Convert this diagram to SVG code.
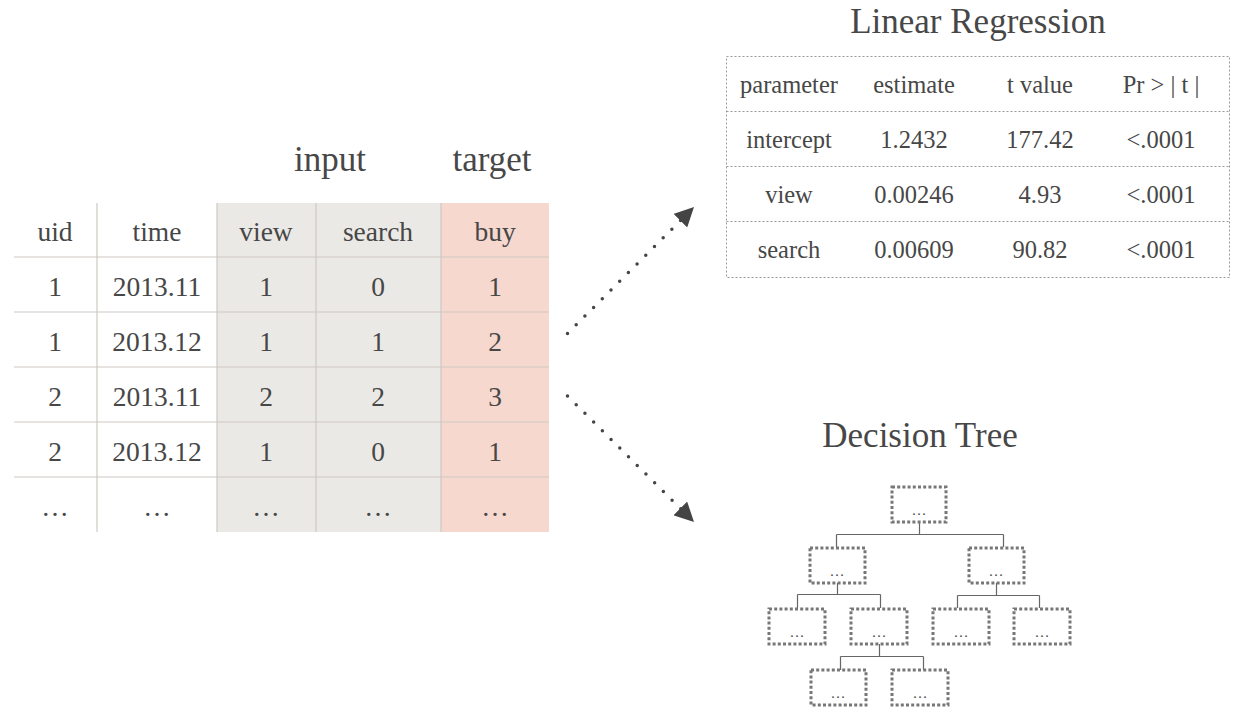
<svg xmlns="http://www.w3.org/2000/svg" width="1247" height="724" viewBox="0 0 1247 724">
<defs>
<style>
text{font-family:"Liberation Serif","DejaVu Serif",serif;fill:#474747;text-anchor:middle}
.t{font-size:27.5px}
.h{font-size:35px}
.g{stroke:#cfc8c2;stroke-width:1.2;fill:none}
.d{stroke:#999;stroke-width:1;stroke-dasharray:2 2;fill:none}
.n{fill:#fff;stroke:#777;stroke-width:3;stroke-dasharray:3 2.2}
.e{stroke:#666;stroke-width:1.2;fill:none}
.dots{font-size:15px}
.c{stroke:#444;stroke-width:3.5;stroke-linecap:round;stroke-dasharray:0 12.3;fill:none}
</style>
<marker id="ah" viewBox="0 0 10 10" refX="10" refY="5" markerWidth="5.5" markerHeight="5.5" orient="auto" markerUnits="strokeWidth">
<path d="M0,0 L10,5 L0,10 z" fill="#444"/>
</marker>
</defs>
<rect width="1247" height="724" fill="#fff"/>

<g id="data-table">
<rect x="217" y="203" width="224" height="329" fill="#ebe9e5"/>
<rect x="441" y="203" width="108" height="329" fill="#f6d8cf"/>
<text class="h" x="330" y="171">input</text>
<text class="h" x="492" y="171">target</text>
<path class="g" d="M97,203V532M217,203V532M316,203V532M441,203V532M14,257H549M14,312H549M14,367H549M14,422H549M14,477H549"/>
<g class="t">
<text x="55" y="241">uid</text><text x="157" y="241">time</text><text x="266" y="241">view</text><text x="378" y="241">search</text><text x="495" y="241">buy</text>
<text x="55" y="296">1</text><text x="157" y="296">2013.11</text><text x="266" y="296">1</text><text x="378" y="296">0</text><text x="495" y="296">1</text>
<text x="55" y="351">1</text><text x="157" y="351">2013.12</text><text x="266" y="351">1</text><text x="378" y="351">1</text><text x="495" y="351">2</text>
<text x="55" y="406">2</text><text x="157" y="406">2013.11</text><text x="266" y="406">2</text><text x="378" y="406">2</text><text x="495" y="406">3</text>
<text x="55" y="461">2</text><text x="157" y="461">2013.12</text><text x="266" y="461">1</text><text x="378" y="461">0</text><text x="495" y="461">1</text>
<text x="55" y="516">…</text><text x="157" y="516">…</text><text x="266" y="516">…</text><text x="378" y="516">…</text><text x="495" y="516">…</text>
</g>
</g>

<g id="connectors">
<line class="c" x1="567.5" y1="333.5" x2="694" y2="207" marker-end="url(#ah)"/>
<line class="c" x1="567.5" y1="396" x2="694" y2="522" marker-end="url(#ah)"/>
</g>

<g id="linear-regression">
<text class="h" x="978" y="33">Linear Regression</text>
<rect class="d" x="726.5" y="56.5" width="503" height="221"/>
<path class="d" d="M726.5,111.5H1229.5M726.5,166.5H1229.5M726.5,221.5H1229.5"/>
<g style="font-size:24.5px">
<text x="789" y="93">parameter</text><text x="914" y="93">estimate</text><text x="1040" y="93">t value</text><text x="1161" y="93">Pr &gt; | t |</text>
<text x="789" y="148">intercept</text><text x="914" y="148">1.2432</text><text x="1040" y="148">177.42</text><text x="1161" y="148">&lt;.0001</text>
<text x="789" y="203">view</text><text x="914" y="203">0.00246</text><text x="1040" y="203">4.93</text><text x="1161" y="203">&lt;.0001</text>
<text x="789" y="258">search</text><text x="914" y="258">0.00609</text><text x="1040" y="258">90.82</text><text x="1161" y="258">&lt;.0001</text>
</g>
</g>

<g id="decision-tree">
<text class="h" x="920" y="447">Decision Tree</text>
<path class="e" d="M919.5,522V534.5M836.5,534.5H1003.5M836.5,534.5V547M1003.5,534.5V547"/>
<path class="e" d="M837.5,583V594.5M797.5,594.5H880.5M797.5,594.5V608M880.5,594.5V608"/>
<path class="e" d="M996.5,583V595.5M957.5,595.5H1039.5M957.5,595.5V608M1039.5,595.5V608"/>
<path class="e" d="M879.5,644V656.5M840.5,656.5H923.5M840.5,656.5V670M923.5,656.5V670"/>
<g id="node-root"><rect class="n" x="892" y="487" width="54" height="35"/><text class="dots" x="919" y="515">…</text></g>
<g id="node-l"><rect class="n" x="810" y="548" width="55" height="35"/><text class="dots" x="837" y="576">…</text></g>
<g id="node-r"><rect class="n" x="969" y="548" width="55" height="35"/><text class="dots" x="996" y="576">…</text></g>
<g id="node-ll"><rect class="n" x="769" y="609" width="56" height="35"/><text class="dots" x="797" y="637">…</text></g>
<g id="node-lr"><rect class="n" x="851" y="609" width="56" height="35"/><text class="dots" x="879" y="637">…</text></g>
<g id="node-rl"><rect class="n" x="933" y="609" width="56" height="35"/><text class="dots" x="961" y="637">…</text></g>
<g id="node-rr"><rect class="n" x="1014" y="609" width="56" height="35"/><text class="dots" x="1042" y="637">…</text></g>
<g id="node-lrl"><rect class="n" x="811" y="670" width="55" height="35"/><text class="dots" x="838" y="698">…</text></g>
<g id="node-lrr"><rect class="n" x="892" y="670" width="56" height="35"/><text class="dots" x="920" y="698">…</text></g>
</g>
</svg>
